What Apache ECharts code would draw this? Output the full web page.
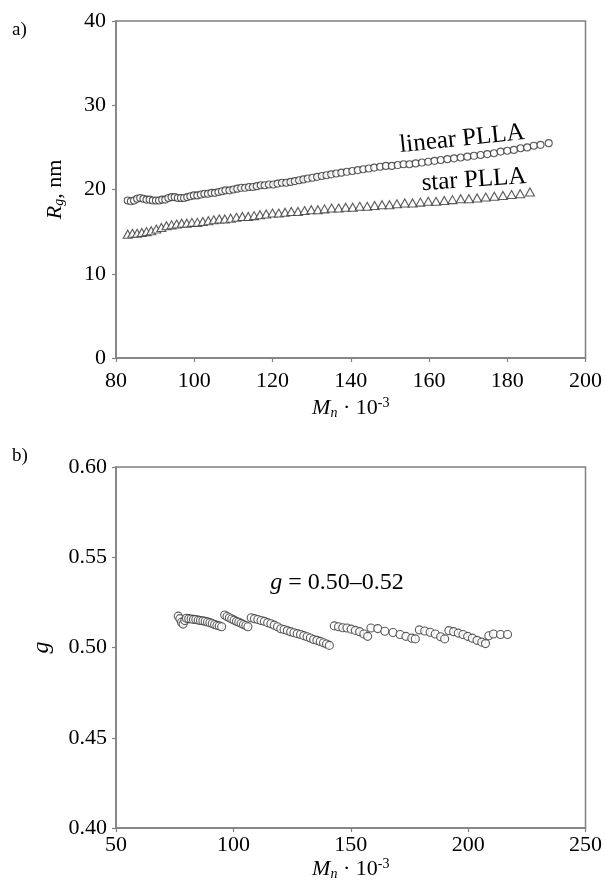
<!DOCTYPE html>
<html>
<head>
<meta charset="utf-8">
<script src="https://cdn.jsdelivr.net/npm/echarts@6/dist/echarts.min.js"></script>
<style>
html,body{margin:0;padding:0;background:#fff;}
#chart{width:605px;height:882px;}
</style>
</head>
<body>
<div id="chart"></div>
<script>
// ---- Panel a: Rg vs Mn ----
const linearMn = [83.0,83.8,84.6,85.4,86.2,87.0,87.8,88.6,89.4,90.2,91.0,91.8,92.6,93.4,94.2,95.0,95.8,96.6,97.4,98.2,99.0,99.9,100.8,101.7,102.6,103.5,104.4,105.3,106.2,107.1,108.0,109.0,110.0,111.0,112.0,113.0,114.0,115.0,116.0,117.0,118.0,119.1,120.2,121.3,122.4,123.5,124.6,125.7,126.8,127.9,129.0,130.2,131.4,132.6,133.8,135.0,136.3,137.6,139.0,140.4,141.8,143.2,144.6,146.0,147.5,149.0,150.5,152.0,153.5,155.0,156.6,158.2,159.8,161.4,163.0,164.7,166.4,168.1,169.8,171.5,173.2,174.9,176.6,178.3,180.0,181.7,183.4,185.1,186.8,188.5,190.6];
const linearRg = [18.7,18.6,18.7,18.9,19.0,18.9,18.8,18.8,18.7,18.7,18.7,18.8,18.8,19.0,19.1,19.1,19.0,19.0,19.0,19.1,19.2,19.3,19.3,19.4,19.5,19.5,19.6,19.6,19.7,19.8,19.9,19.9,20.0,20.1,20.2,20.2,20.3,20.3,20.4,20.5,20.5,20.6,20.6,20.7,20.8,20.8,20.9,21.0,21.1,21.2,21.3,21.4,21.5,21.6,21.7,21.8,21.9,22.0,22.1,22.2,22.3,22.4,22.5,22.6,22.7,22.8,22.8,22.9,23.0,23.0,23.1,23.2,23.3,23.4,23.5,23.6,23.7,23.8,23.9,24.0,24.1,24.2,24.3,24.5,24.6,24.7,24.9,25.0,25.2,25.3,25.5];
const starMn = [83.0,84.2,85.4,86.6,87.8,89.0,90.3,91.6,92.9,94.2,95.5,96.8,98.1,99.4,100.8,102.2,103.6,105.0,106.4,107.8,109.3,110.8,112.3,113.8,115.3,116.8,118.4,120.0,121.6,123.2,124.8,126.5,128.2,129.9,131.6,133.3,135.1,136.9,138.7,140.5,142.3,144.2,146.1,148.0,149.9,151.8,153.8,155.8,157.8,159.8,161.8,163.9,166.0,168.1,170.2,172.3,174.5,176.7,178.9,181.1,183.3,185.8];
const starRg = [14.7,14.8,14.8,14.9,15.0,15.1,15.3,15.5,15.7,15.8,15.9,16.0,16.0,16.1,16.1,16.2,16.3,16.4,16.5,16.5,16.6,16.7,16.8,16.8,16.9,17.0,17.1,17.2,17.2,17.3,17.4,17.4,17.5,17.6,17.6,17.7,17.8,17.8,17.9,17.9,18.0,18.0,18.1,18.2,18.2,18.3,18.4,18.4,18.5,18.6,18.6,18.7,18.8,18.9,18.9,19.0,19.1,19.2,19.3,19.4,19.5,19.7];

// ---- Panel b: g vs Mn ----
const gMn = [76.5,77.2,77.9,78.6,79.3,80.0,81.0,82.0,83.0,84.0,85.0,86.0,87.0,88.0,89.0,90.0,91.0,92.0,93.0,94.0,95.0,
  96.3,97.3,98.3,99.3,100.3,101.3,102.3,103.3,104.3,105.3,106.2,
  107.6,109.0,110.4,111.8,113.2,114.6,116.0,117.4,118.8,120.2,121.6,123.0,124.4,125.8,127.2,128.6,130.0,131.4,132.8,134.2,135.6,137.0,138.4,139.7,140.9,
  143.0,144.8,146.6,148.4,150.2,152.0,153.8,155.6,157.2,
  158.6,161.5,164.5,168.0,171.0,173.5,176.0,177.5,
  179.2,181.5,183.8,186.0,188.3,190.0,
  191.8,193.8,195.8,197.8,199.8,201.8,203.8,205.8,207.4,
  208.8,210.8,213.8,216.8];
const gVal = [0.5174,0.5160,0.5140,0.5130,0.5150,0.5162,0.5160,0.5158,0.5156,0.5155,0.5152,0.5150,0.5148,0.5146,0.5142,0.5138,0.5133,0.5128,0.5123,0.5120,0.5115,
  0.5180,0.5172,0.5165,0.5158,0.5152,0.5145,0.5140,0.5134,0.5128,0.5122,0.5115,
  0.5165,0.5160,0.5155,0.5150,0.5145,0.5138,0.5132,0.5124,0.5115,0.5104,0.5100,0.5094,0.5088,0.5082,0.5077,0.5072,0.5066,0.5060,0.5053,0.5045,0.5040,0.5034,0.5027,0.5020,0.5012,
  0.5120,0.5115,0.5110,0.5108,0.5102,0.5095,0.5088,0.5075,0.5062,
  0.5108,0.5105,0.5090,0.5083,0.5072,0.5062,0.5052,0.5048,
  0.5098,0.5092,0.5085,0.5075,0.5060,0.5048,
  0.5094,0.5088,0.5080,0.5072,0.5062,0.5052,0.5040,0.5030,0.5022,
  0.5065,0.5075,0.5072,0.5072];

const xTicksA = {min: 80, max: 200, interval: 20};
const yTicksA = {min: 0, max: 40, interval: 10};
const xTicksB = {min: 50, max: 250, interval: 50};
const yTicksB = {min: 0.40, max: 0.60, interval: 0.05};

const zip = (a, b) => a.map((v, i) => [v, b[i]]);

const FONT = '"Liberation Serif", "DejaVu Serif", serif';
const AX = '#808080';
const lbl = {color: '#000', fontFamily: FONT, fontSize: 22};

function xAxisCfg(idx, t, margin, nameGap) {
  return {
    type: 'value', gridIndex: idx, min: t.min, max: t.max, interval: t.interval,
    axisLine: {show: true, onZero: false, lineStyle: {color: AX, width: 1.5}},
    axisTick: {show: true, length: 4, lineStyle: {color: AX, width: 1.2}},
    axisLabel: Object.assign({margin: margin}, lbl),
    splitLine: {show: false},
    name: '{i|M}{sub|n}{t| · 10}{sup|-3}',
    nameLocation: 'middle', nameGap: nameGap,
    nameTextStyle: {
      color: '#000', fontFamily: FONT, fontSize: 22,
      rich: {
        i: {fontFamily: FONT, fontStyle: 'italic', fontSize: 22, color: '#000'},
        sub: {fontFamily: FONT, fontStyle: 'italic', fontSize: 14, color: '#000', verticalAlign: 'bottom', padding: [10, 0, 0, 0]},
        t: {fontFamily: FONT, fontSize: 22, color: '#000'},
        sup: {fontFamily: FONT, fontSize: 14, color: '#000', verticalAlign: 'top', padding: [0, 0, 10, 0]}
      }
    }
  };
}

const chart = echarts.init(document.getElementById('chart'), null, {renderer: 'canvas'});

const option = {
  backgroundColor: '#fff',
  animation: false,
  grid: [
    {left: 116, right: 19, top: 21, height: 337, show: true, borderColor: AX, borderWidth: 1.5, backgroundColor: 'transparent'},
    {left: 116, right: 18, top: 467, height: 365, show: true, borderColor: AX, borderWidth: 1.5, backgroundColor: 'transparent'}
  ],
  xAxis: [
    xAxisCfg(0, xTicksA, 12, 38),
    xAxisCfg(1, xTicksB, 6, 26)
  ],
  yAxis: [
    {
      type: 'value', gridIndex: 0, min: yTicksA.min, max: yTicksA.max, interval: yTicksA.interval,
      axisLine: {show: true, lineStyle: {color: AX, width: 1.5}},
      axisTick: {show: true, length: 4, lineStyle: {color: AX, width: 1.2}},
      axisLabel: Object.assign({margin: 10}, lbl),
      splitLine: {show: false},
      name: '{i|R}{sub|g}{t|, nm}',
      nameLocation: 'middle', nameGap: 50, nameRotate: 90,
      nameTextStyle: {
        color: '#000', fontFamily: FONT, fontSize: 22,
        rich: {
          i: {fontFamily: FONT, fontStyle: 'italic', fontSize: 22, color: '#000'},
          sub: {fontFamily: FONT, fontStyle: 'italic', fontSize: 14, color: '#000', verticalAlign: 'bottom', padding: [8, 0, 0, 0]},
          t: {fontFamily: FONT, fontSize: 22, color: '#000'}
        }
      }
    },
    {
      type: 'value', gridIndex: 1, min: yTicksB.min, max: yTicksB.max, interval: yTicksB.interval,
      axisLine: {show: true, lineStyle: {color: AX, width: 1.5}},
      axisTick: {show: true, length: 4, lineStyle: {color: AX, width: 1.2}},
      axisLabel: Object.assign({margin: 9, formatter: v => v.toFixed(2)}, lbl),
      splitLine: {show: false},
      name: 'g',
      nameLocation: 'middle', nameGap: 62, nameRotate: 90,
      nameTextStyle: {color: '#000', fontFamily: FONT, fontSize: 24, fontStyle: 'italic'}
    }
  ],
  series: [
    {
      name: 'linear PLLA', type: 'scatter', xAxisIndex: 0, yAxisIndex: 0,
      data: zip(linearMn, linearRg), symbol: 'circle', symbolSize: 7,
      itemStyle: {color: '#fff', borderColor: '#333', borderWidth: 1.1}
    },
    {
      name: 'star PLLA', type: 'scatter', xAxisIndex: 0, yAxisIndex: 0,
      data: zip(starMn, starRg), symbol: 'triangle', symbolSize: [9, 8],
      itemStyle: {color: '#fff', borderColor: '#333', borderWidth: 1.1}
    },
    {
      name: 'g', type: 'scatter', xAxisIndex: 1, yAxisIndex: 1,
      data: zip(gMn, gVal), symbol: 'circle', symbolSize: 8,
      itemStyle: {color: '#fff', borderColor: '#333', borderWidth: 1.1}
    }
  ],
  graphic: [
    {type: 'text', left: 12, top: 21, style: {text: 'a)', font: '19px ' + FONT, fill: '#000'}},
    {type: 'text', left: 12, top: 447, style: {text: 'b)', font: '19px ' + FONT, fill: '#000'}},
    {type: 'text', x: 462, y: 139, rotation: 0.105,
      style: {text: 'linear PLLA', font: '25px ' + FONT, fill: '#000', align: 'center', verticalAlign: 'middle'}},
    {type: 'text', x: 474, y: 180, rotation: 0.07,
      style: {text: 'star PLLA', font: '25px ' + FONT, fill: '#000', align: 'center', verticalAlign: 'middle'}},
    {type: 'text', x: 337, y: 583,
      style: {
        text: '{i|g}{t| = 0.50–0.52}', align: 'center', verticalAlign: 'middle',
        rich: {
          i: {fontFamily: FONT, fontStyle: 'italic', fontSize: 24, fill: '#000'},
          t: {fontFamily: FONT, fontSize: 24, fill: '#000'}
        }
      }}
  ]
};
chart.setOption(option);
</script>
</body>
</html>
